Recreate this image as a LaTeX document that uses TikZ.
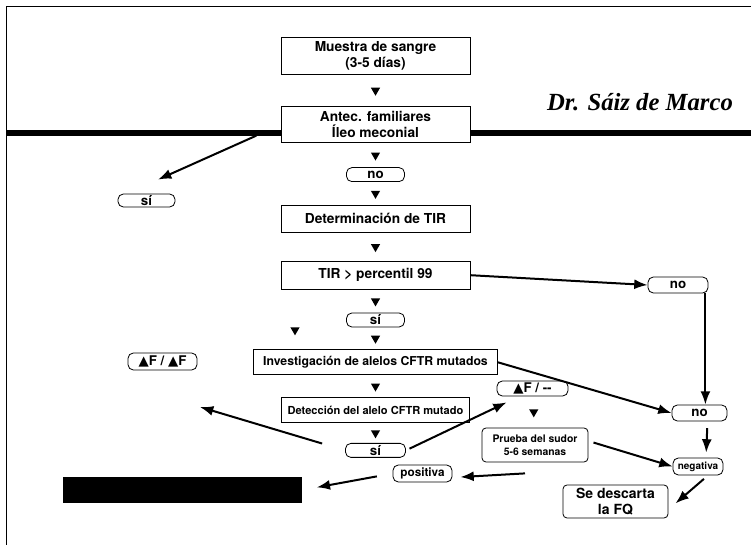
\documentclass[tikz,border=0pt]{standalone}
\usepackage{fontspec}
\setmainfont{TeX Gyre Heros}
\newfontfamily\symfont{DejaVu Sans}
\newfontfamily\authorfont{Liberation Serif}
\usetikzlibrary{shapes.geometric,arrows.meta,positioning,calc}

\newcommand{\dF}{{\symfont ▲}F}

\begin{document}
\begin{tikzpicture}[x=0.75pt, y=-0.75pt,
    stepbox/.style={rectangle, draw=black, line width=0.6pt, fill=white, inner sep=1pt, align=center, minimum width=141.75pt, font=\bfseries\fontsize{10.3}{12}\selectfont},
    roundbox/.style={stepbox, rounded corners=3pt},
    pill/.style={rectangle, rounded corners=4pt, draw=black, line width=0.6pt, fill=white, inner sep=0pt, minimum height=10.5pt, font=\bfseries\fontsize{10}{11}\selectfont},
    marker/.style={regular polygon, regular polygon sides=3, shape border rotate=180, fill=black, inner sep=0pt, minimum size=8pt},
    link/.style={-{Latex[length=10pt,width=7.5pt]}, line width=1.5pt}]
    \useasboundingbox (0,0) rectangle (751,545);

    % Page frame and bar
    \draw[line width=0.75pt] (6,545) -- (6,7) -- (751,7);
    \fill (6,130) rectangle (751,136);

    % Main column
    \node [stepbox, minimum height=27.75pt] (sangre) at (375.5,55.5) {Muestra de sangre\\(3-5 días)};
    \node [stepbox, minimum height=27pt, below=24pt of sangre] (antec) {Antec. familiares\\Íleo meconial};
    \node [pill, minimum width=43.5pt, below=18pt of antec] (no1) {no};
    \node [stepbox, minimum height=20.25pt, below=17.25pt of no1] (tir) {Determinación de TIR};
    \node [stepbox, minimum height=21pt, below=21pt of tir] (corte) {TIR > percentil 99};
    \node [pill, minimum width=43.5pt, below=17.25pt of corte] (si1) {sí};
    \node [stepbox, minimum width=183pt, minimum height=18.75pt, below=16.5pt of si1, font=\bfseries\fontsize{9.2}{11}\selectfont] (alelos) {Investigación de alelos CFTR mutados};
    \node [stepbox, minimum width=141pt, minimum height=18.75pt, below=16.5pt of alelos, font=\bfseries\fontsize{8.3}{10}\selectfont] (deteccion) {Detección del alelo CFTR mutado};
    \node [pill, minimum width=45pt, below=15pt of deteccion] (si2) {sí};

    % Markers between the steps
    \foreach \a/\b in {sangre/antec, antec/no1, no1/tir, tir/corte, corte/si1, si1/alelos, alelos/deteccion, deteccion/si2}
        \node [marker] at ($(\a.south)!0.5!(\b.north)$) {};
    \node [marker] at (295,330) {};

    % Side results
    \node [pill, minimum width=42.75pt, minimum height=9.75pt] (si0) at (146.5,200.5) {sí};
    \node [pill, minimum width=45pt, minimum height=12pt] (no2) at (678,285) {no};
    \node [pill, minimum width=41.25pt, minimum height=12pt] (no3) at (699.5,413) {no};
    \node [pill, minimum width=51.75pt, minimum height=12.75pt] (homo) at (162.5,361.5) {\dF\ / \dF};
    \node [pill, minimum width=53.25pt, minimum height=11.25pt] (hetero) at (532.5,388.5) {\dF\ / -{}-};
    \node [roundbox, minimum width=79.5pt, minimum height=25.5pt, font=\bfseries\fontsize{7.8}{10}\selectfont] (sudor) at (535,445) {Prueba del sudor\\5-6 semanas};
    \node [marker] at ($(hetero.south)!0.5!(sudor.north)$) {};
    \node [pill, minimum width=37.5pt, minimum height=12.75pt, font=\bfseries\fontsize{7.5}{9}\selectfont] (negativa) at (698,466.5) {negativa};
    \node [pill, minimum width=44.25pt, minimum height=12.75pt, font=\bfseries\fontsize{8.8}{10}\selectfont] (positiva) at (422.5,473.5) {positiva};
    \node [roundbox, minimum width=78.75pt, minimum height=24.75pt, font=\bfseries\fontsize{10.5}{12}\selectfont] (descarta) at (615.5,501.5) {Se descarta\\la FQ};
    \node [fill=black, inner sep=0pt, minimum width=179.25pt, minimum height=19.5pt] (tapa) at (182.5,490) {};

    % Author
    \node [font=\authorfont\bfseries\itshape\fontsize{18.5}{21}\selectfont] (autor) at (640,102) {Dr. Sáiz de Marco};

    % Arrows
    \coordinate (caida) at ([xshift=-2.25pt]no2.south east);
    \coordinate (homofin) at (200,407);
    \draw[link, shorten <=20pt] (antec.west) -- ([shift={(11.5,-14)}]si0.north);
    \draw[link] (corte.east) -- (no2.west);
    \draw[link] (caida) -- (caida |- no3.north);
    \draw[link] (alelos.east) -- (no3.west);
    \draw[link, shorten <=18pt] (si2.west) -- (homofin);
    \draw[link, shorten <=3pt] (si2.east) -- ([shift={(10,6)}]hetero.south west);
    \draw[link, shorten <=4pt] ([yshift=3pt]sudor.east) -- (negativa.west);
    \draw[link, shorten <=5pt, shorten >=3.75pt] ([xshift=6pt]no3.south) -- ([xshift=6pt]negativa.north);
    \draw[link, shorten <=4pt, shorten >=7pt] ([xshift=7.5pt]negativa.south) -- ([yshift=-6pt]descarta.east);
    \draw[link, shorten >=6pt] ([shift={(-10,11)}]sudor.south) -- ([yshift=-3pt]positiva.east);
    \draw[link, shorten <=12pt, shorten >=11pt] (positiva.west) -- (tapa.east);
\end{tikzpicture}
\end{document}
